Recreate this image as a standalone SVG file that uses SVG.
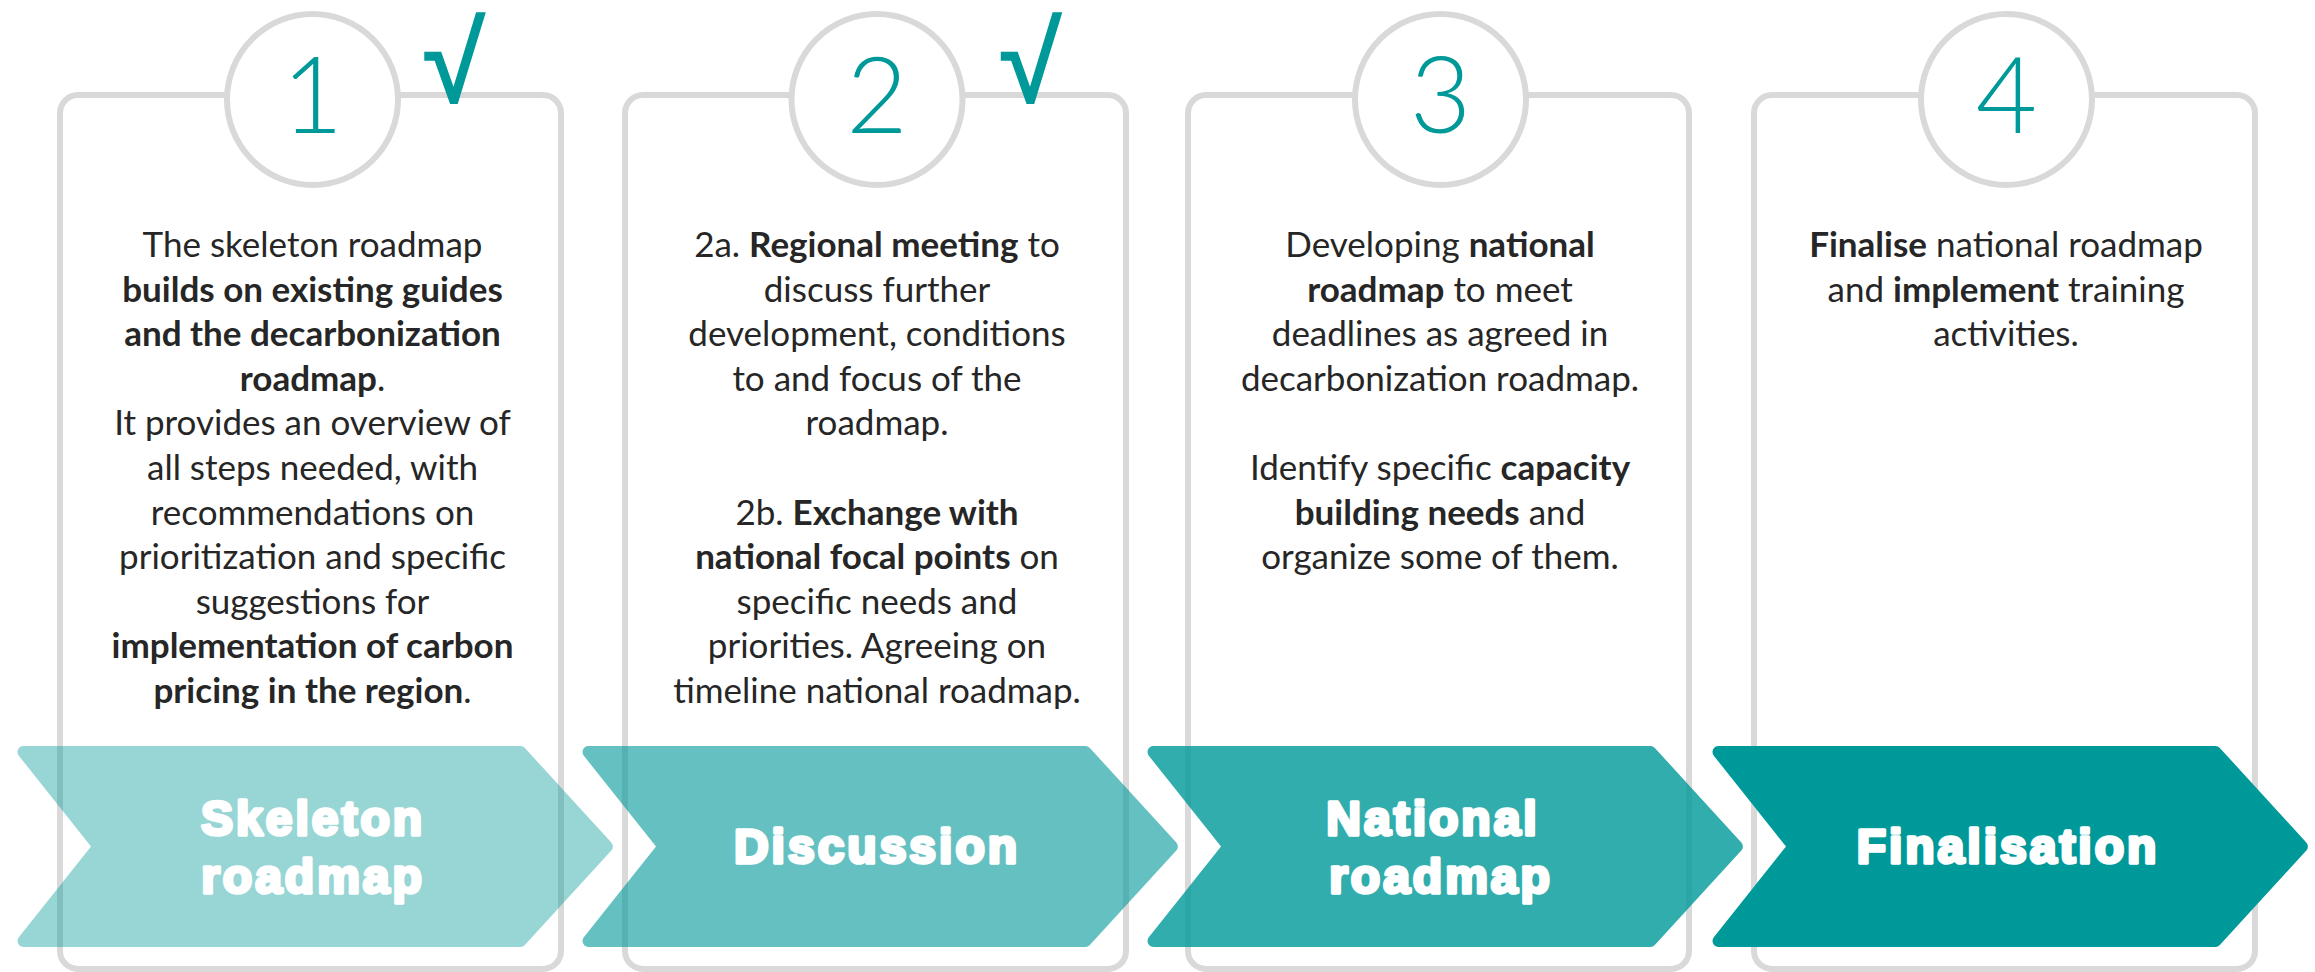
<svg xmlns="http://www.w3.org/2000/svg" width="2315" height="972" viewBox="0 0 2315 972">
<style>
.box{fill:#fff;stroke:#D9D9D9;stroke-width:6}
.ring{fill:#fff;stroke:#D9D9D9;stroke-width:6}
.num{font-family:Lato,"Open Sans","Liberation Sans",sans-serif;font-weight:300;font-size:106px;fill:#009999;text-anchor:middle}
.chk{font-family:"Liberation Sans",sans-serif;font-size:112px;fill:#009999;stroke:#009999;stroke-width:2.5;text-anchor:middle}
.body{font-family:Lato,"Liberation Sans",sans-serif;font-size:35px;fill:#262626;text-anchor:middle}
.b{font-weight:700}
.chev{fill:#009999;stroke:#009999;stroke-width:12;stroke-linejoin:round}
.lbl{font-family:"Liberation Sans",Arial,sans-serif;font-weight:700;font-size:48px;fill:#fff;stroke:#fff;stroke-width:3.5;stroke-linejoin:round;letter-spacing:3px;text-anchor:middle}
</style>
<rect width="2315" height="972" fill="#fff"/>
<g id="connectors"/>

<g id="step1">
<rect class="box" x="60" y="95" width="501" height="874" rx="18"/>
<circle class="ring" cx="312.5" cy="99.5" r="85.5"/>
<text class="num" x="312.5" y="133">1</text>
<text class="chk" x="453.5" y="102">√</text>
<text class="body" x="312.5" y="257">The skeleton roadmap</text>
<text class="body b" x="312.5" y="301.6">builds on existing guides</text>
<text class="body b" x="312.5" y="346.2">and the decarbonization</text>
<text class="body" x="312.5" y="390.8"><tspan class="b">roadmap</tspan>.</text>
<text class="body" x="312.5" y="435.4">It provides an overview of</text>
<text class="body" x="312.5" y="480">all steps needed, with</text>
<text class="body" x="312.5" y="524.6">recommendations on</text>
<text class="body" x="312.5" y="569.2">prioritization and specific</text>
<text class="body" x="312.5" y="613.8">suggestions for</text>
<text class="body b" x="312.5" y="658.4">implementation of carbon</text>
<text class="body" x="312.5" y="703"><tspan class="b">pricing in the region</tspan>.</text>
<g opacity="0.4"><polygon class="chev" points="23.5,752 520.4,752 606.9,846.5 520.4,941 23.5,941 98.7,846.5"/></g>
<text class="lbl" x="313" y="835">Skeleton</text>
<text class="lbl" x="313" y="893">roadmap</text>
</g>

<g id="step2">
<rect class="box" x="625" y="95" width="501" height="874" rx="18"/>
<circle class="ring" cx="877" cy="99.5" r="85.5"/>
<text class="num" x="877" y="133">2</text>
<text class="chk" x="1030" y="102">√</text>
<text class="body" x="877" y="257">2a. <tspan class="b">Regional meeting</tspan> to</text>
<text class="body" x="877" y="301.6">discuss further</text>
<text class="body" x="877" y="346.2">development, conditions</text>
<text class="body" x="877" y="390.8">to and focus of the</text>
<text class="body" x="877" y="435.4">roadmap.</text>
<text class="body" x="877" y="524.6">2b. <tspan class="b">Exchange with</tspan></text>
<text class="body" x="877" y="569.2"><tspan class="b">national focal points</tspan> on</text>
<text class="body" x="877" y="613.8">specific needs and</text>
<text class="body" x="877" y="658.4">priorities. Agreeing on</text>
<text class="body" x="877" y="703">timeline national roadmap.</text>
<g opacity="0.6"><polygon class="chev" points="588.5,752 1085.4,752 1171.9,846.5 1085.4,941 588.5,941 663.7,846.5"/></g>
<text class="lbl" x="877" y="863">Discussion</text>
</g>

<g id="step3">
<rect class="box" x="1188" y="95" width="501" height="874" rx="18"/>
<circle class="ring" cx="1440.5" cy="99.5" r="85.5"/>
<text class="num" x="1440.5" y="133">3</text>
<text class="body" x="1440" y="257">Developing <tspan class="b">national</tspan></text>
<text class="body" x="1440" y="301.6"><tspan class="b">roadmap</tspan> to meet</text>
<text class="body" x="1440" y="346.2">deadlines as agreed in</text>
<text class="body" x="1440" y="390.8">decarbonization roadmap.</text>
<text class="body" x="1440" y="480">Identify specific <tspan class="b">capacity</tspan></text>
<text class="body" x="1440" y="524.6"><tspan class="b">building needs</tspan> and</text>
<text class="body" x="1440" y="569.2">organize some of them.</text>
<g opacity="0.8"><polygon class="chev" points="1153.5,752 1650.4,752 1736.9,846.5 1650.4,941 1153.5,941 1228.7,846.5"/></g>
<text class="lbl" x="1433" y="835">National</text>
<text class="lbl" x="1441" y="893">roadmap</text>
</g>

<g id="step4">
<rect class="box" x="1754" y="95" width="501" height="874" rx="18"/>
<circle class="ring" cx="2006.5" cy="99.5" r="85.5"/>
<text class="num" x="2006.5" y="133">4</text>
<text class="body" x="2006" y="257"><tspan class="b">Finalise</tspan> national roadmap</text>
<text class="body" x="2006" y="301.6">and <tspan class="b">implement</tspan> training</text>
<text class="body" x="2006" y="346.2">activities.</text>
<g opacity="1"><polygon class="chev" points="1718.5,752 2215.4,752 2301.9,846.5 2215.4,941 1718.5,941 1793.7,846.5"/></g>
<text class="lbl" x="2008" y="863">Finalisation</text>
</g>
</svg>
